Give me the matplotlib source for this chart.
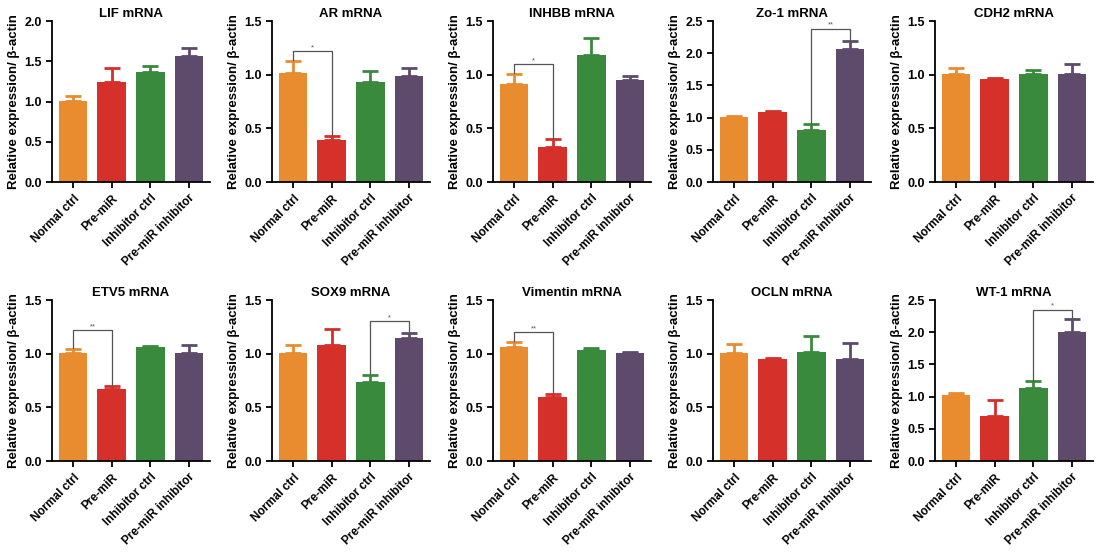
import matplotlib
matplotlib.use("Agg")
import matplotlib.pyplot as plt
import numpy as np

plt.rcParams["font.family"] = ["Liberation Sans", "DejaVu Sans"]

groups = ["Normal ctrl", "Pre-miR", "Inhibitor ctrl", "Pre-miR inhibitor"]
colors = ["#E98B2F", "#D5302A", "#3A8A3D", "#5E4B6B"]

genes = ["LIF", "AR", "INHBB", "Zo-1", "CDH2",
         "ETV5", "SOX9", "Vimentin", "OCLN", "WT-1"]

LIF_mean = [1.01, 1.24, 1.37, 1.57]
LIF_err = [0.06, 0.17, 0.07, 0.09]
AR_mean = [1.02, 0.39, 0.93, 0.99]
AR_err = [0.11, 0.04, 0.10, 0.07]
INHBB_mean = [0.91, 0.33, 1.18, 0.95]
INHBB_err = [0.10, 0.07, 0.16, 0.04]
ZO1_mean = [1.01, 1.08, 0.81, 2.07]
ZO1_err = [0.01, 0.02, 0.09, 0.12]
CDH2_mean = [1.01, 0.96, 1.01, 1.01]
CDH2_err = [0.05, 0.01, 0.03, 0.09]
ETV5_mean = [1.01, 0.67, 1.06, 1.01]
ETV5_err = [0.03, 0.03, 0.01, 0.07]
SOX9_mean = [1.01, 1.08, 0.74, 1.15]
SOX9_err = [0.07, 0.15, 0.06, 0.04]
VIM_mean = [1.06, 0.60, 1.03, 1.01]
VIM_err = [0.05, 0.02, 0.02, 0.01]
OCLN_mean = [1.01, 0.95, 1.02, 0.95]
OCLN_err = [0.08, 0.01, 0.14, 0.15]
WT1_mean = [1.02, 0.70, 1.13, 2.00]
WT1_err = [0.04, 0.25, 0.11, 0.20]

means = [LIF_mean, AR_mean, INHBB_mean, ZO1_mean, CDH2_mean,
         ETV5_mean, SOX9_mean, VIM_mean, OCLN_mean, WT1_mean]
errs = [LIF_err, AR_err, INHBB_err, ZO1_err, CDH2_err,
        ETV5_err, SOX9_err, VIM_err, OCLN_err, WT1_err]
ymax = [2.0, 1.5, 1.5, 2.5, 1.5, 1.5, 1.5, 1.5, 1.5, 2.5]

# significance: gene index -> (bar a, bar b, bracket height, label)
sig = {1: (0, 1, 1.22, "*"), 2: (0, 1, 1.10, "*"), 3: (2, 3, 2.38, "**"),
       5: (0, 1, 1.22, "**"), 6: (2, 3, 1.30, "*"), 7: (0, 1, 1.20, "**"),
       9: (2, 3, 2.35, "*")}

W, H = 1096, 557
fig = plt.figure(figsize=(W / 100, H / 100), dpi=100)
lefts = [52, 272, 493, 713, 935]
tops = [21, 300]
aw, ah = 158, 161

x = np.arange(4)
for i, g in enumerate(genes):
    r, c = divmod(i, 5)
    ax = fig.add_axes([lefts[c] / W, 1 - (tops[r] + ah) / H, aw / W, ah / H])
    m, e = means[i], errs[i]
    for j in range(4):
        ax.bar(x[j], m[j], width=0.74, color=colors[j], zorder=2)
        ax.errorbar(x[j], m[j], yerr=[[0], [e[j]]], color=colors[j],
                    capsize=6, capthick=2, elinewidth=2, zorder=1)
    if i in sig:
        a, b, h, lab = sig[i]
        ax.plot([a, a, b, b], [m[a] + e[a] + 0.01, h, h, m[b] + e[b] + 0.01],
                color="#555555", lw=0.9, zorder=3)
        ax.text((a + b) / 2, h, lab, ha="center", va="bottom", fontsize=5.5,
                color="#555555")
    ax.set_xlim(-0.55, 3.55)
    ax.set_ylim(0, ymax[i])
    ax.set_yticks(np.arange(0, ymax[i] + 0.01, 0.5))
    ax.yaxis.set_major_formatter(matplotlib.ticker.FormatStrFormatter("%.1f"))
    ax.set_xticks(x)
    ax.set_xticklabels(groups, rotation=45, ha="right", rotation_mode="anchor",
                       fontsize=8.5, fontweight="bold")
    for t in ax.get_yticklabels():
        t.set_fontweight("bold")
        t.set_fontsize(9)
    ax.spines["top"].set_visible(False)
    ax.spines["right"].set_visible(False)
    ax.spines["left"].set_linewidth(1.3)
    ax.spines["bottom"].set_linewidth(1.3)
    ax.tick_params(width=1.3, length=4)
    ax.set_title(g + " mRNA", fontsize=9.5, fontweight="bold", pad=3)
    ax.set_ylabel("Relative expression/ β-actin", fontsize=9.5, fontweight="bold",
                  labelpad=3)

fig.savefig("out.png", dpi=100)
